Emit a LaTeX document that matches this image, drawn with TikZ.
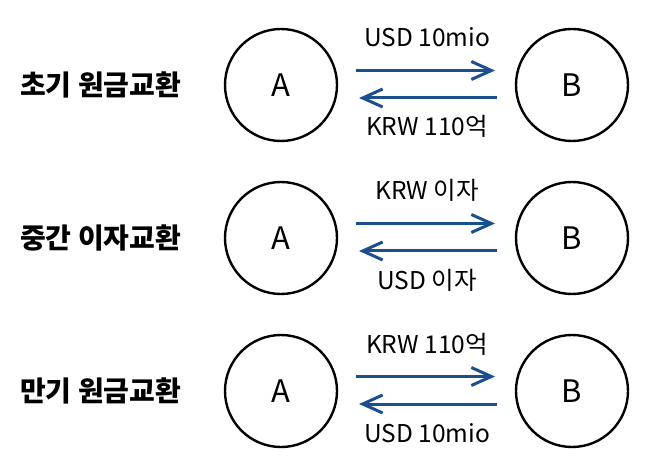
\documentclass[tikz,border=0pt]{standalone}
\usepackage{fontspec}
\setmainfont{Noto Sans CJK KR}
\usetikzlibrary{arrows.meta}
\definecolor{arrowblue}{HTML}{1B4F8F}
\tikzset{
  party/.style={circle, draw=black, line width=2.4pt, minimum size=112pt, inner sep=0pt, font=\fontsize{31}{31}\selectfont},
  rowlabel/.style={anchor=west, inner sep=0pt, font=\bfseries\fontsize{28}{28}\selectfont},
  flowlabel/.style={anchor=base, inner sep=0pt, font=\fontsize{24.5}{24.5}\selectfont},
  flow/.style={draw=arrowblue, line width=3pt, -{Straight Barb[length=20pt,width=18pt,line width=3pt]}}
}
\begin{document}
\begin{tikzpicture}[x=1pt,y=-1pt]
\useasboundingbox (0,0) rectangle (658,470);
\foreach \r/\yy/\lab/\top/\bot in {1/85/초기 원금교환/USD 10mio/KRW 110억, 2/238/중간 이자교환/KRW 이자/USD 이자, 3/391/만기 원금교환/KRW 110억/USD 10mio}{
  \node[rowlabel] (L\r) at (20,\yy) {\lab};
  \node[party] (A\r) at (281,\yy) {A};
  \node[party] (B\r) at (572,\yy) {B};
  \coordinate (p\r) at (356,\yy-14.5);
  \coordinate (q\r) at (495,\yy-14.5);
  \coordinate (s\r) at (497,\yy+13);
  \coordinate (t\r) at (359,\yy+13);
  \draw[flow] (p\r) -- (q\r);
  \draw[flow] (s\r) -- (t\r);
  \node[flowlabel] (T\r) at (427,\yy-38) {\top};
  \node[flowlabel] (U\r) at (427,\yy+51) {\bot};
}
\end{tikzpicture}
\end{document}
